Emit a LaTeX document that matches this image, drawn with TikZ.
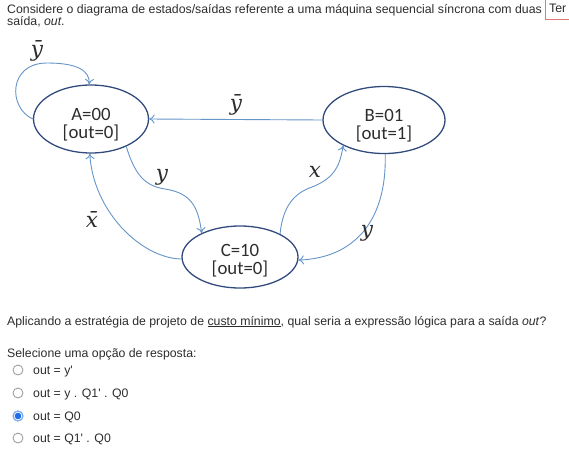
\documentclass[tikz,border=0pt]{standalone}
\usepackage{fontspec}
\setmainfont{Liberation Sans}
\newfontfamily\calib{Carlito}
\newfontfamily\lblfont{DejaVu Serif}
\usetikzlibrary{arrows.meta,shapes.geometric}
\definecolor{ebord}{RGB}{50,75,125}
\definecolor{arrc}{RGB}{100,148,200}
\definecolor{txt}{RGB}{45,45,45}
\definecolor{boxred}{RGB}{225,120,120}
\definecolor{radgray}{RGB}{150,150,150}
\definecolor{radblue}{RGB}{30,110,230}
\begin{document}
\begin{tikzpicture}[x=1pt,y=-1pt,
  state/.style={draw=ebord,line width=1.3pt,ellipse,inner sep=0pt,align=center,
    font=\calib\fontsize{18.8}{19}\selectfont,text=txt},
  conn/.style={draw=arrc,line width=0.9pt,-{To[length=5.5pt,width=9pt]}},
  lbl/.style={inner sep=0pt,font=\lblfont\itshape\fontsize{21.5}{24}\selectfont,text=txt},
  body/.style={anchor=base west,inner sep=0pt,font=\fontsize{12.3}{14}\selectfont,text=txt},
  radio/.style={circle,draw=radgray,fill=white,line width=0.8pt,minimum size=10pt,inner sep=0pt}]
\useasboundingbox (0,0) rectangle (569,450);
\clip (0,0) rectangle (569,450);
% header text
\node[body] (l1) at (7,13) {Considere o diagrama de estados/saídas referente a uma máquina sequencial síncrona com duas};
\node[body] (l2) at (7,25) {saída, \textit{out}.};
\draw[boxred,line width=0.8pt,fill=white] (545,-2) rectangle (580,19);
\node[body] (ter) at (549,12) {Ter};
% states
\node[state,minimum width=115pt,minimum height=68pt] (A) at (91,119) {\rule{0pt}{23pt}A=00\\[-1pt][out=0]};
\node[state,minimum width=122pt,minimum height=67pt] (B) at (384,120) {\rule{0pt}{23pt}B=01\\[-1pt][out=1]};
\node[state,minimum width=116pt,minimum height=62pt] (C) at (240,257) {\rule{0pt}{20pt}C=10\\[-1pt][out=0]};
% connectors
\draw[conn] (A.180) .. controls (8,108) and (8,63) .. (47,63) .. controls (76,63) and (90,70) .. (A.93);
\draw[conn] (B.west) -- (A.east);
\draw[conn] (A.-38) .. controls (135,175) and (145,186) .. (165,189) .. controls (190,193) and (198,205) .. (C.148);
\draw[conn] (C.182) .. controls (140,258) and (93,210) .. (A.-92);
\draw[conn] (C.30) .. controls (283,205) and (295,193) .. (312,187) .. controls (335,178) and (340,165) .. (B.212);
\draw[conn] (B.-88) .. controls (387,220) and (355,258) .. (C.-3);
% labels
\node[lbl] (lloop) at (37,51) {ȳ};
\node[lbl] (lba) at (236,105) {ȳ};
\node[lbl] (lac) at (162,177) {y};
\node[lbl] (lca) at (92,219) {x̄};
\node[lbl] (lcb) at (315,172) {x};
\node[lbl] (lbc) at (367,233) {y};
% question
\node[body] (q) at (7,325) {Aplicando a estratégia de projeto de \underline{custo mínimo}, qual seria a expressão lógica para a saída \textit{out}?};
\node[body] (sel) at (7,357) {Selecione uma opção de resposta:};
\node[radio] (r1) at (18,370) {};
\node[radio] (r2) at (18,393) {};
\node[radio,draw=radblue!60,line width=1.2pt] (r3) at (18,416) {};
\fill[radblue] (r3.center) circle (3.3pt);
\node[radio] (r4) at (18,438) {};
\node[body] (o1) at (33,374) {out = y\textquotesingle};
\node[body] (o2) at (33,397) {out = y . Q1\textquotesingle\ . Q0};
\node[body] (o3) at (33,420) {out = Q0};
\node[body] (o4) at (33,442) {out = Q1\textquotesingle\ . Q0};
\end{tikzpicture}
\end{document}
